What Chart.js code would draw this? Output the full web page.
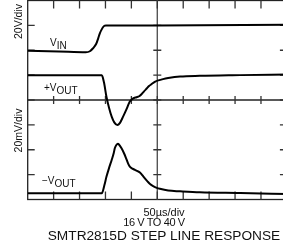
<!DOCTYPE html>
<html>
<head>
    <title>SMTR2815D Step Line Response</title>
    <style>
        body { margin: 0; overflow: hidden; background: #fff; font-family: 'Liberation Sans', Arial, sans-serif; }
        #wrap { position: relative; width: 283px; height: 252px; overflow: hidden; }
        canvas { position: absolute; left: 0; top: 0; }
        .lbl { position: absolute; color: #111; white-space: nowrap; }
        .rot { width: 70px; height: 11px; line-height: 11px; font-size: 10.5px; text-align: center; transform: rotate(-90deg); }
        .trace { font-size: 10px; line-height: 10px; }
        .trace sub { font-size: 10px; vertical-align: -3px; line-height: 0; }
        .foot { width: 240px; text-align: center; line-height: 1; }
    </style>
</head>
<body>
<div id="wrap">
    <canvas id="scope" width="300" height="252"></canvas>

    <div class="lbl rot" style="left:-17px; top:16px;">20V/div</div>
    <div class="lbl rot" style="left:-17px; top:125px;">20mV/div</div>

    <div class="lbl trace" style="left:50px; top:38px;">V<sub>IN</sub></div>
    <div class="lbl trace" style="left:44px; top:83px;">+V<sub>OUT</sub></div>
    <div class="lbl trace" style="left:42px; top:176px;">&minus;V<sub>OUT</sub></div>

    <div class="lbl foot" style="left:44px; top:207px; font-size:11px;">50&micro;s/div</div>
    <div class="lbl foot" style="left:34px; top:217px; font-size:11px; letter-spacing:-0.4px;">16 V TO 40 V</div>
    <div class="lbl foot" style="left:44px; top:228.5px; font-size:13.7px;">SMTR2815D STEP LINE RESPONSE</div>
</div>

<script src="https://cdn.jsdelivr.net/npm/chart.js"></script>
<script>
// time in microseconds (50us/div, 10 divisions), level in screen divisions (0 = centre line)
const X_MIN = 0, X_MAX = 500, X_STEP = 50;
const Y_MIN = -4, Y_MAX = 4, Y_STEP = 1;

const vinTime = [0, 60, 112, 120, 126, 132, 136, 139, 142, 147, 151, 250, 500];
const vinDiv  = [1.98, 1.95, 1.92, 1.96, 2.08, 2.25, 2.48, 2.67, 2.81, 2.97, 3.0, 3.0, 3.03];

const posOutTime = [0, 100, 143, 147, 152, 157, 162, 167, 173, 178, 184, 190, 194, 197, 201, 205, 210,
                    215, 220, 224, 230, 234, 239, 246, 252, 261, 271, 294, 332, 410, 500];
const posOutDiv  = [0.99, 0.99, 0.99, 0.72, 0.12, -0.32, -0.67, -0.90, -1.01, -0.92, -0.67, -0.40, -0.20,
                    -0.06, 0.03, 0.08, 0.11, 0.15, 0.24, 0.34, 0.47, 0.56, 0.64, 0.74, 0.79, 0.84, 0.88,
                    0.94, 0.97, 1.0, 1.03];

const negOutTime = [0, 100, 143, 148, 152, 157, 162, 166, 168, 171, 174, 176, 181, 186, 191, 194, 197,
                    202, 207, 212, 217, 221, 226, 231, 236, 242, 249, 255, 271, 294, 332, 410, 500];
const negOutDiv  = [-3.75, -3.75, -3.75, -3.42, -3.08, -2.73, -2.41, -2.13, -1.94, -1.81, -1.76, -1.79,
                    -1.94, -2.15, -2.41, -2.57, -2.68, -2.76, -2.81, -2.86, -2.92, -3.02, -3.15, -3.27,
                    -3.38, -3.46, -3.53, -3.57, -3.64, -3.67, -3.71, -3.74, -3.78];

function pts(xs, ys) {
    return xs.map((x, i) => ({ x: x, y: ys[i] }));
}

// scope graticule: border, centre cross, and division ticks
const graticule = {
    id: 'graticule',
    beforeDatasetsDraw(chart) {
        const ctx = chart.ctx;
        const xs = chart.scales.x, ys = chart.scales.y;
        const a = chart.chartArea;
        const cx = xs.getPixelForValue((X_MIN + X_MAX) / 2);
        const cy = ys.getPixelForValue(0);
        ctx.save();

        ctx.strokeStyle = '#222';
        ctx.lineWidth = 1.3;
        ctx.strokeRect(a.left, a.top, a.right - a.left, a.bottom - a.top);

        ctx.strokeStyle = '#555';
        ctx.lineWidth = 1.4;
        ctx.beginPath();
        ctx.moveTo(cx, a.top); ctx.lineTo(cx, a.bottom);
        ctx.stroke();
        ctx.strokeStyle = '#222';
        ctx.beginPath();
        ctx.moveTo(a.left, cy); ctx.lineTo(a.right, cy);
        ctx.stroke();

        ctx.lineWidth = 1.3;
        ctx.strokeStyle = '#333';
        ctx.beginPath();
        for (let t = X_MIN + X_STEP; t < X_MAX; t += X_STEP) {
            const px = xs.getPixelForValue(t);
            ctx.moveTo(px, a.top); ctx.lineTo(px, a.top + 8);
            ctx.moveTo(px, a.bottom); ctx.lineTo(px, a.bottom - 8);
            ctx.moveTo(px, cy - 4); ctx.lineTo(px, cy + 4);
        }
        for (let v = Y_MIN + Y_STEP; v < Y_MAX; v += Y_STEP) {
            const py = ys.getPixelForValue(v);
            ctx.moveTo(a.left, py); ctx.lineTo(a.left + 7, py);
            ctx.moveTo(a.right, py); ctx.lineTo(a.right - 7, py);
            ctx.moveTo(cx - 4, py); ctx.lineTo(cx + 4, py);
        }
        ctx.stroke();
        ctx.restore();
    }
};

const lineStyle = {
    borderColor: '#000',
    borderWidth: 2,
    pointRadius: 0,
    fill: false,
    cubicInterpolationMode: 'monotone'
};

new Chart(document.getElementById('scope').getContext('2d'), {
    type: 'line',
    data: {
        datasets: [
            Object.assign({ label: 'VIN', data: pts(vinTime, vinDiv) }, lineStyle),
            Object.assign({ label: '+VOUT', data: pts(posOutTime, posOutDiv) }, lineStyle),
            Object.assign({ label: '-VOUT', data: pts(negOutTime, negOutDiv) }, lineStyle)
        ]
    },
    options: {
        responsive: false,
        animation: false,
        devicePixelRatio: 1,
        layout: { padding: { left: 27.7, top: 0.5, right: 13.1, bottom: 52.5 } },
        plugins: { legend: { display: false }, tooltip: { enabled: false }, title: { display: false } },
        scales: {
            x: { type: 'linear', min: X_MIN, max: X_MAX, display: false },
            y: { type: 'linear', min: Y_MIN, max: Y_MAX, display: false }
        }
    },
    plugins: [graticule]
});
</script>
</body>
</html>
